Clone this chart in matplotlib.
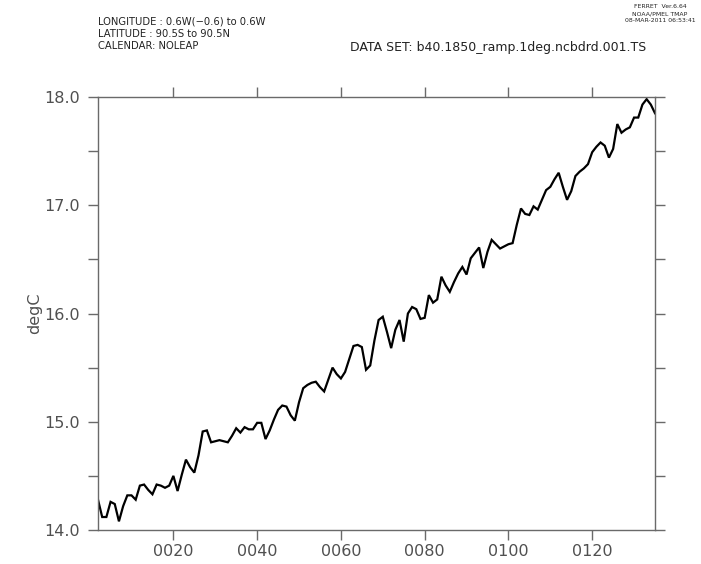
import numpy as np
import matplotlib
matplotlib.use("Agg")
import matplotlib.pyplot as plt
from matplotlib.ticker import FixedLocator, MultipleLocator

# Annual global-mean surface temperature (degC), model years 0002-0135
years = np.arange(2, 136)
ts = [
    14.28, 14.12, 14.12, 14.26, 14.24, 14.08, 14.22, 14.32, 14.32, 14.28,
    14.41, 14.42, 14.37, 14.33, 14.42, 14.41, 14.39, 14.41, 14.50, 14.36,
    14.51, 14.65, 14.58, 14.53, 14.69, 14.91, 14.92, 14.81, 14.82, 14.83,
    14.82, 14.81, 14.87, 14.94, 14.90, 14.95, 14.93, 14.93, 14.99, 14.99,
    14.84, 14.92, 15.02, 15.11, 15.15, 15.14, 15.06, 15.01, 15.18, 15.31,
    15.34, 15.36, 15.37, 15.32, 15.28, 15.39, 15.50, 15.44, 15.40, 15.46,
    15.58, 15.70, 15.71, 15.69, 15.48, 15.52, 15.75, 15.94, 15.97, 15.83,
    15.68, 15.85, 15.94, 15.74, 16.00, 16.06, 16.04, 15.95, 15.96, 16.17,
    16.10, 16.13, 16.34, 16.26, 16.20, 16.29, 16.37, 16.43, 16.36, 16.51,
    16.56, 16.61, 16.42, 16.57, 16.68, 16.64, 16.60, 16.62, 16.64, 16.65,
    16.82, 16.97, 16.92, 16.91, 16.99, 16.96, 17.05, 17.14, 17.17, 17.24,
    17.30, 17.17, 17.05, 17.13, 17.27, 17.31, 17.34, 17.38, 17.49, 17.54,
    17.58, 17.55, 17.44, 17.52, 17.75, 17.67, 17.70, 17.72, 17.81, 17.81,
    17.93, 17.98, 17.93, 17.85,
]
xticks = [20, 40, 60, 80, 100, 120]
xtick_labels = ["0020", "0040", "0060", "0080", "0100", "0120"]
yticks = [14.0, 15.0, 16.0, 17.0, 18.0]
ytick_labels = ["14.0", "15.0", "16.0", "17.0", "18.0"]

W, H = 701, 564
fig = plt.figure(figsize=(W / 100, H / 100), dpi=100)
ax = fig.add_axes([98 / W, (H - 530) / H, (655 - 98) / W, (530 - 97) / H])

ax.plot(years, ts, color="black", lw=1.6, solid_joinstyle="miter")
ax.set_xlim(years[0], years[-1])
ax.set_ylim(14.0, 18.0)

axis_grey = "#6a6a6a"
label_grey = "#505050"
for s in ax.spines.values():
    s.set_color(axis_grey)
    s.set_linewidth(1.0)

ax.xaxis.set_major_locator(FixedLocator(xticks))
ax.set_xticklabels(xtick_labels)
ax.yaxis.set_major_locator(FixedLocator(yticks))
ax.set_yticklabels(ytick_labels)
ax.yaxis.set_minor_locator(MultipleLocator(0.5))

ax.tick_params(axis="both", which="both", direction="out", length=7,
               width=1.0, color=axis_grey, top=True, right=True,
               labelcolor=label_grey, labelsize=11.5)
ax.tick_params(axis="y", which="major", pad=6)
ax.tick_params(axis="x", which="major", pad=3)

ax.set_ylabel("degC", color=label_grey, fontsize=11.5)
ax.yaxis.set_label_coords((42 - 98) / 557, 0.5)

# Header annotations
hdr = dict(color="#222222", fontsize=7.2, va="center", ha="left")
fig.text(98 / W, 1 - 22 / H, "LONGITUDE : 0.6W(\u22120.6) to 0.6W", **hdr)
fig.text(98 / W, 1 - 34 / H, "LATITUDE : 90.5S to 90.5N", **hdr)
fig.text(98 / W, 1 - 46 / H, "CALENDAR: NOLEAP", **hdr)
fig.text(350 / W, 1 - 47 / H, "DATA SET: b40.1850_ramp.1deg.ncbdrd.001.TS",
         color="#222222", fontsize=9, va="center", ha="left")

info = dict(color="#222222", fontsize=4.4, va="center", ha="center")
fig.text(660 / W, 1 - 7 / H, "FERRET  Ver.6.64", **info)
fig.text(660 / W, 1 - 14 / H, "NOAA/PMEL TMAP", **info)
fig.text(660 / W, 1 - 21 / H, "08-MAR-2011 06:53:41", **info)

fig.savefig("out.png", dpi=100, facecolor="white")
